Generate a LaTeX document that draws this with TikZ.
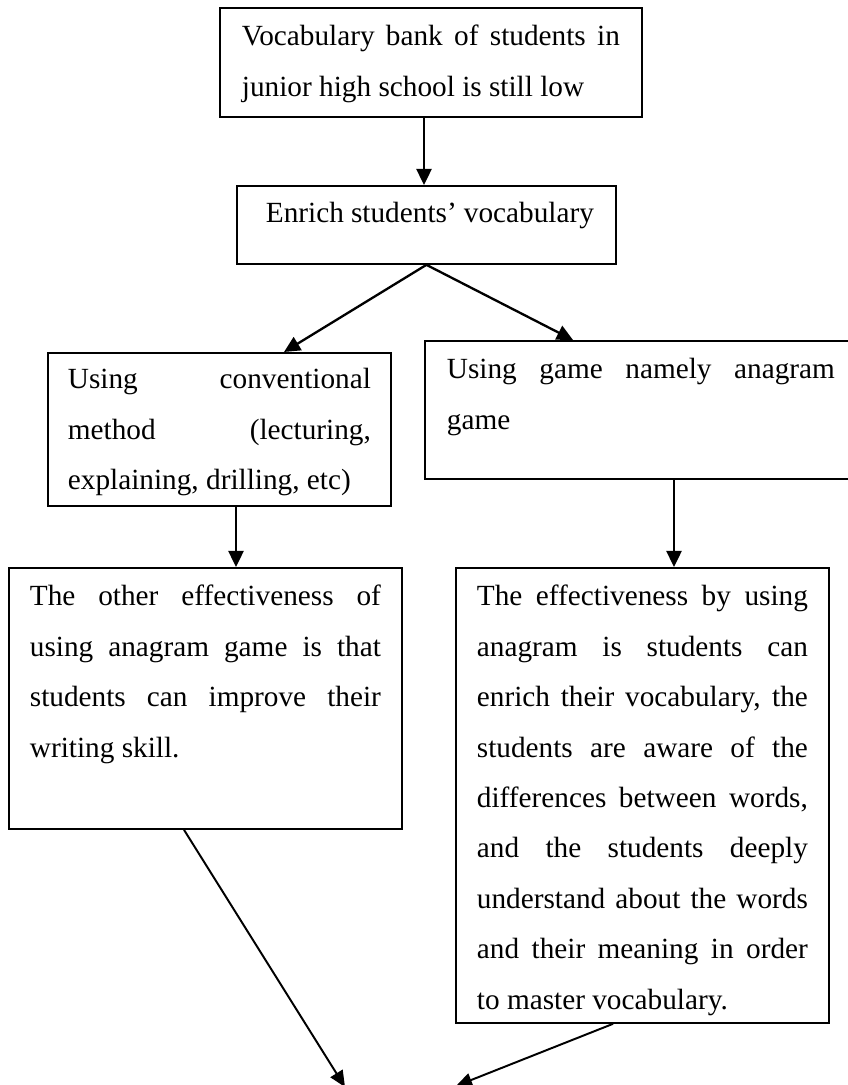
\documentclass[tikz,border=0pt]{standalone}
\usepackage{fontspec}
\setmainfont{Liberation Serif}
\usetikzlibrary{arrows.meta}
\newdimen\pxu \pxu=0.41pt
\newcommand{\boxtext}[4]{\begin{minipage}[t][#2\pxu][t]{#1\pxu}\pretolerance=10000\tolerance=10000\hbadness=10000\rule{0pt}{#3\pxu}#4\end{minipage}}
\begin{document}
\begin{tikzpicture}[x=0.41pt,y=-0.41pt,
  every node/.style={font=\fontsize{12}{20.66}\selectfont},
  bx/.style={draw, line width=0.75pt, anchor=north west, inner ysep=0pt, inner xsep={#1*0.41pt}},
  bx/.default=22,
  arr/.style={line width=0.95pt, -{Triangle[length=6.6pt,width=6.2pt]}},
  thinarr/.style={line width=0.8pt, -{Triangle[length=6.6pt,width=5.8pt]}}]
\useasboundingbox (0,0) rectangle (847,1085);

\node[bx=22] (b1) at (219,7) {\boxtext{378}{109}{38}{Vocabulary bank of students in\linebreak junior high school is still low}};
\node[bx=22] (b2) at (236,185) {\boxtext{335}{78}{37}{\hspace*{7\pxu}Enrich students’ vocabulary}};
\node[bx=20] (b3) at (47,352) {\boxtext{303}{153}{36}{Using conventional\linebreak method (lecturing,\linebreak explaining, drilling, etc)}};
\node[bx=22] (b4) at (424,340) {\boxtext{388}{138}{38}{Using game namely anagram\linebreak game}};
\node[bx=21] (b5) at (8,567) {\boxtext{351}{261}{38}{The other effectiveness of\linebreak using anagram game is that\linebreak students can improve their\linebreak writing skill.}};
\node[bx=21] (b6) at (455,567) {\boxtext{331}{455}{38}{The effectiveness by using\linebreak anagram is students can\linebreak enrich their vocabulary, the\linebreak students are aware of the\linebreak differences between words,\linebreak and the students deeply\linebreak understand about the words\linebreak and their meaning in order\linebreak to master vocabulary.}};

\coordinate (c1) at (424,0);
\coordinate (t3) at (284,0);
\coordinate (t4) at (573,0);
\coordinate (t5) at (236,0);
\coordinate (t6) at (674,0);
\coordinate (s7) at (184,0);
\coordinate (s8) at (613,0);
\coordinate (e7) at (345,1087);
\coordinate (e8) at (456,1086);

\draw[arr] (b1.south -| c1) -- (b2.north -| c1);
\draw[arr] (b2.south) -- (b3.north -| t3);
\draw[arr] (b2.south) -- (b4.north -| t4);
\draw[arr] (b3.south -| t5) -- (b5.north -| t5);
\draw[arr] (b4.south -| t6) -- (b6.north -| t6);
\draw[thinarr] (b5.south -| s7) -- (e7);
\draw[thinarr] (b6.south -| s8) -- (e8);
\end{tikzpicture}
\end{document}
